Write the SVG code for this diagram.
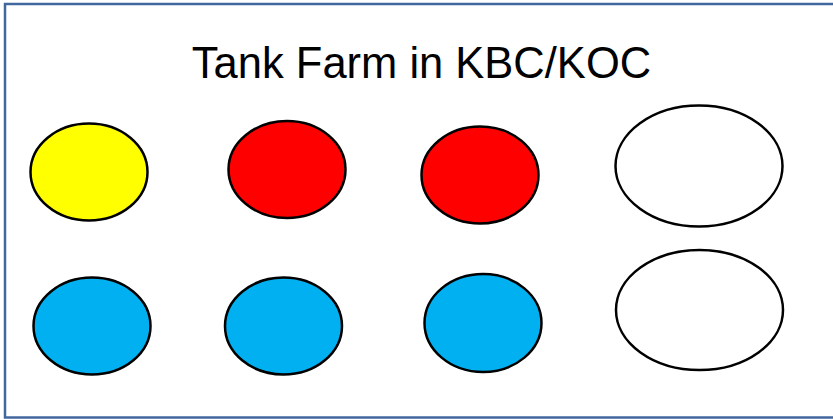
<svg xmlns="http://www.w3.org/2000/svg" width="833" height="419" viewBox="0 0 833 419">
<style>
.tank{stroke:#000;stroke-width:2.5}
.y{fill:#ffff00}.r{fill:#ff0000}.b{fill:#00b0f0}.w{fill:#fff}
.title{font-family:"Liberation Sans",Arial,sans-serif;font-size:43.5px;fill:#000}
</style>
<rect x="0" y="0" width="833" height="419" fill="#fff"/>
<rect x="5" y="4" width="840" height="413.5" fill="#fff" stroke="#41679f" stroke-width="2.5"/>
<g id="title"><text class="title" x="421.5" y="78" text-anchor="middle">Tank Farm in KBC/KOC</text></g>
<g id="tank-yellow"><ellipse class="tank y" cx="89" cy="172" rx="58.5" ry="48.5"/></g>
<g id="tank-red-1"><ellipse class="tank r" cx="287" cy="169.5" rx="58.5" ry="48.5"/></g>
<g id="tank-red-2"><ellipse class="tank r" cx="480" cy="175" rx="58.5" ry="48.5"/></g>
<g id="tank-white-1"><ellipse class="tank w" cx="699" cy="166" rx="83.5" ry="60.5"/></g>
<g id="tank-blue-1"><ellipse class="tank b" cx="92" cy="326" rx="58.5" ry="48.5"/></g>
<g id="tank-blue-2"><ellipse class="tank b" cx="283.5" cy="326" rx="58.5" ry="48.5"/></g>
<g id="tank-blue-3"><ellipse class="tank b" cx="483" cy="323" rx="58.5" ry="49"/></g>
<g id="tank-white-2"><ellipse class="tank w" cx="699.5" cy="310" rx="83.5" ry="60"/></g>
<g id="connectors"/>
</svg>
